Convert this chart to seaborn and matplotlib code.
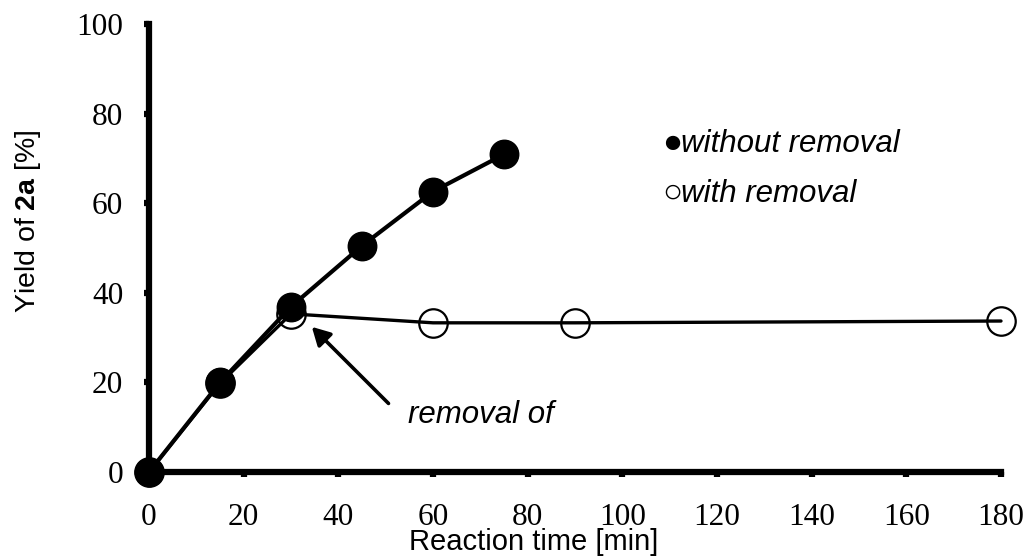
import matplotlib
matplotlib.use("Agg")
import matplotlib.pyplot as plt
import seaborn as sns

# Reaction profiles (yield of 2a vs. time)
time_without = [0, 15, 30, 45, 60, 75]
yield_without = [0, 20.0, 36.9, 50.5, 62.6, 70.9]
time_with = [0, 15, 30, 60, 90, 180]
yield_with = [0, 19.8, 35.3, 33.3, 33.3, 33.7]

x_ticks = [0, 20, 40, 60, 80, 100, 120, 140, 160, 180]
y_ticks = [0, 20, 40, 60, 80, 100]

sns.set_style("ticks")
plt.rcParams["mathtext.fontset"] = "custom"
plt.rcParams["mathtext.rm"] = "Liberation Sans"
plt.rcParams["mathtext.bf"] = "Liberation Sans:bold"
plt.rcParams["text.color"] = "black"
plt.rcParams["axes.labelcolor"] = "black"
plt.rcParams["xtick.color"] = "black"
plt.rcParams["ytick.color"] = "black"

fig = plt.figure(figsize=(10.3, 5.6), dpi=100)
ax = fig.add_axes([149 / 1030, 1 - 472 / 560, 852 / 1030, 448 / 560])

# open circles: run where the reagent was removed
sns.lineplot(x=time_with, y=yield_with, ax=ax, color="black", linewidth=2.4,
             marker="o", markersize=20.5, markerfacecolor="none",
             markeredgecolor="black", markeredgewidth=1.6,
             clip_on=False, zorder=4)
# filled circles: run without removal
sns.lineplot(x=time_without, y=yield_without, ax=ax, color="black", linewidth=3.0,
             marker="o", markersize=20.5, markerfacecolor="black",
             markeredgecolor="black", markeredgewidth=1.0,
             clip_on=False, zorder=5)

ax.set_xlim(0, 180)
ax.set_ylim(0, 100)
ax.set_xticks(x_ticks)
ax.set_yticks(y_ticks)
ax.set_xticklabels([str(v) for v in x_ticks])
ax.set_yticklabels([str(v) for v in y_ticks])

for side in ("top", "right"):
    ax.spines[side].set_visible(False)
for side in ("left", "bottom"):
    ax.spines[side].set_linewidth(4.5)
    ax.spines[side].set_color("black")

ax.tick_params(axis="both", direction="out", length=3.5, width=4.5,
               color="black", labelcolor="black")
ax.tick_params(axis="x", pad=19)
ax.tick_params(axis="y", pad=15)
for lab in ax.get_xticklabels() + ax.get_yticklabels():
    lab.set_fontfamily("Liberation Serif")
    lab.set_fontsize(22.5)
    lab.set_color("black")

ax.set_xlabel("Reaction time [min]", fontsize=21, family="Liberation Sans", color="black")
ax.set_ylabel("Yield of $\\mathbf{2a}$ [%]", fontsize=20.5, family="Liberation Sans", color="black")
ax.xaxis.set_label_coords(0.452, -0.126)
ax.yaxis.set_label_coords(-0.124, 0.56)

# key drawn as text
sym_font = ["Liberation Sans", "DejaVu Sans"]
ax.text(108.4, 71.5, "\u25CF", fontsize=24, family=sym_font, va="baseline", ha="left",
        color="black")
ax.text(112.4, 71.5, "without removal", fontsize=22.5, family="Liberation Sans",
        style="italic", va="baseline", ha="left", color="black")
ax.text(108.4, 60.3, "\u25CB", fontsize=24, family=sym_font, va="baseline", ha="left",
        color="black")
ax.text(112.4, 60.3, "with removal", fontsize=22.5, family="Liberation Sans",
        style="italic", va="baseline", ha="left", color="black")

# arrow marking the removal point
ax.annotate("", xy=(34.4, 32.4), xytext=(50.6, 15.3),
            arrowprops=dict(arrowstyle="-|>,head_length=0.4,head_width=0.22",
                            color="black", lw=2.6, mutation_scale=27,
                            shrinkA=0, shrinkB=0))
ax.text(54.7, 10.9, "removal of", fontsize=22.5, family="Liberation Sans",
        style="italic", va="baseline", ha="left", color="black")

fig.savefig("out.png", dpi=100, facecolor="white")
